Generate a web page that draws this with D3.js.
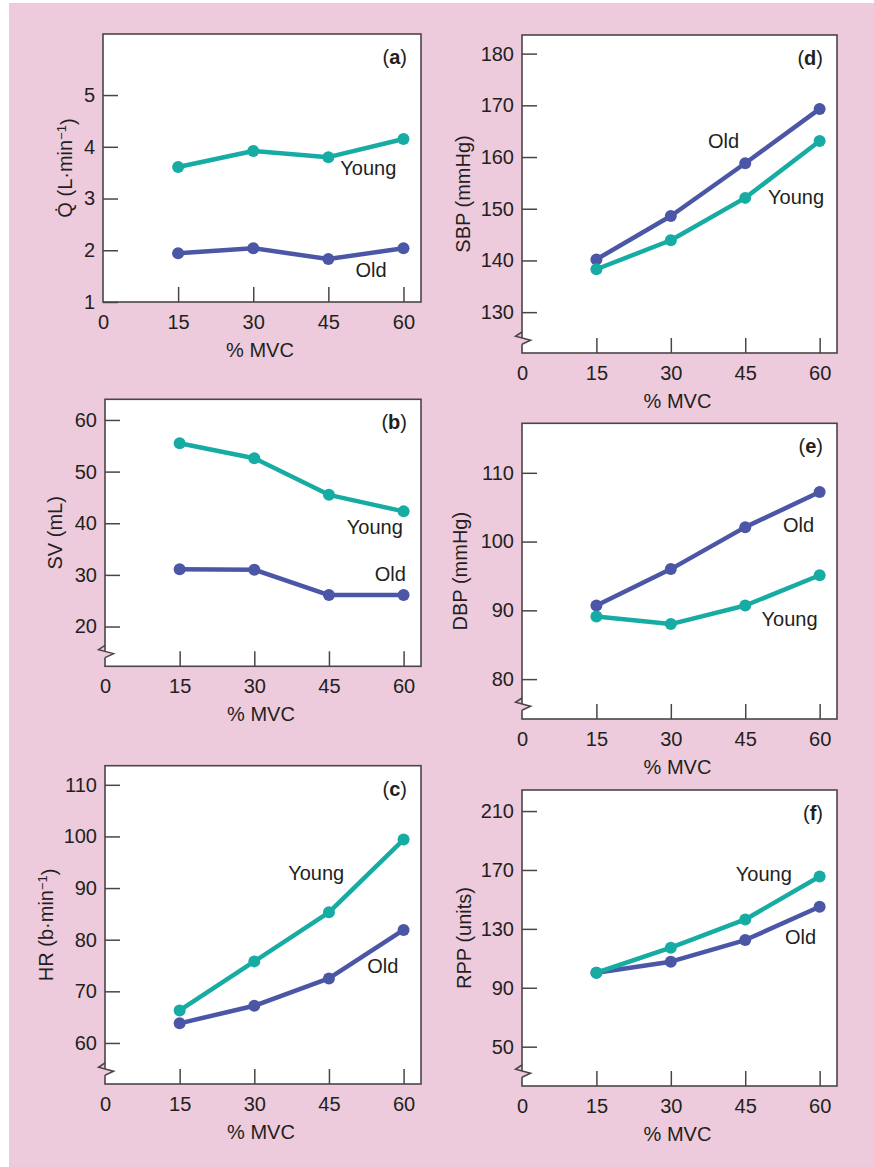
<!DOCTYPE html>
<html>
<head>
<meta charset="utf-8">
<script src="https://cdn.jsdelivr.net/npm/d3@7"></script>
<style>
  body { margin: 0; background: #fff; }
  text { font-family: "Liberation Sans", Arial, sans-serif; fill: #231f20; }
</style>
</head>
<body>
<div id="chart"></div>
<script>
const width = 874;
const height = 1167;
const fs = "20px";

// % MVC
const mvc = [15, 30, 45, 60];
const xTicks = [0, 15, 30, 45, 60];

// (a) cardiac output
const qYoung = [3.61, 3.92, 3.80, 4.15];
const qOld = [1.94, 2.04, 1.83, 2.04];
const qTicks = [1, 2, 3, 4, 5];
// (b) stroke volume
const svYoung = [55.5, 52.6, 45.5, 42.3];
const svOld = [31.1, 31.0, 26.1, 26.1];
const svTicks = [20, 30, 40, 50, 60];
// (c) heart rate
const hrYoung = [66.3, 75.8, 85.3, 99.4];
const hrOld = [63.8, 67.2, 72.5, 81.9];
const hrTicks = [60, 70, 80, 90, 100, 110];
// (d) systolic BP
const sbpYoung = [138.3, 143.9, 152.1, 163.1];
const sbpOld = [140.2, 148.6, 158.8, 169.3];
const sbpTicks = [130, 140, 150, 160, 170, 180];
// (e) diastolic BP
const dbpYoung = [89.1, 88.0, 90.7, 95.1];
const dbpOld = [90.7, 96.0, 102.1, 107.2];
const dbpTicks = [80, 90, 100, 110];
// (f) rate pressure product
const rppYoung = [100.2, 117.2, 136.4, 165.6];
const rppOld = [100.2, 107.7, 122.4, 145.0];
const rppTicks = [50, 90, 130, 170, 210];

const young = "#17aca3";
const old = "#4b57a6";
const pink = "#edcbdc";
const ink = "#231f20";

const panels = [
  {letter: "a", box: [103, 34, 421, 302], yDomain: [1, 6.18], ticks: qTicks,
   young: qYoung, old: qOld, brk: false,
   ylab: ["Q\u0307 (L\u00b7min", "\u22121", ")"], ylabX: 72,
   yl: [47.4, 3.59], ol: [50.4, 1.62]},
  {letter: "b", box: [105, 399.3, 421, 666.3], yDomain: [12.3, 64], ticks: svTicks,
   young: svYoung, old: svOld, brk: true,
   ylab: ["SV (mL)"], ylabX: 62,
   yl: [48.6, 39.35], ol: [54.2, 30.2]},
  {letter: "c", box: [105, 765.7, 421, 1084], yDomain: [52.05, 113.7], ticks: hrTicks,
   young: hrYoung, old: hrOld, brk: true,
   ylab: ["HR (b\u00b7min", "\u22121", ")"], ylabX: 53,
   yl: [36.8, 92.9], ol: [52.7, 74.9]},
  {letter: "d", box: [522, 35, 837, 353], yDomain: [122.1, 183.6], ticks: sbpTicks,
   young: sbpYoung, old: sbpOld, brk: true,
   ylab: ["SBP (mmHg)"], ylabX: 470,
   yl: [49.6, 152.3], ol: [37.5, 163.2]},
  {letter: "e", box: [522, 423.3, 837, 719], yDomain: [74.2, 117.2], ticks: dbpTicks,
   young: dbpYoung, old: dbpOld, brk: true,
   ylab: ["DBP (mmHg)"], ylabX: 467,
   yl: [48.3, 88.75], ol: [52.6, 102.5]},
  {letter: "f", box: [522, 790, 837, 1086], yDomain: [23.3, 224.3], ticks: rppTicks,
   young: rppYoung, old: rppOld, brk: true,
   ylab: ["RPP (units)"], ylabX: 471,
   yl: [43.1, 167.7], ol: [53.0, 124.3]}
];

const svg = d3.select("#chart").append("svg")
  .attr("width", width)
  .attr("height", height);

svg.append("rect").attr("width", width).attr("height", height).attr("fill", "#fff");
svg.append("rect").attr("x", 9).attr("y", 3)
  .attr("width", width - 9).attr("height", height - 3).attr("fill", pink);

panels.forEach(drawPanel);

function drawPanel(p) {
  const [x0, y0, x1, y1] = p.box;
  const x = d3.scaleLinear().domain([0, 63.5]).range([x0, x1]);
  const y = d3.scaleLinear().domain(p.yDomain).range([y1, y0]);
  const g = svg.append("g");

  g.append("rect")
    .attr("x", x0).attr("y", y0)
    .attr("width", x1 - x0).attr("height", y1 - y0)
    .attr("fill", "#fff")
    .attr("stroke", "#4a4548")
    .attr("stroke-width", 1.6);

  // y axis, ticks pointing inward
  const ya = g.append("g")
    .attr("transform", "translate(" + x0 + ",0)")
    .call(d3.axisLeft(y).tickValues(p.ticks).tickFormat(d3.format("d"))
      .tickSize(-15).tickPadding(8));
  ya.select(".domain").remove();
  ya.selectAll(".tick line").attr("stroke", "#4a4548").attr("stroke-width", 1.5);
  ya.selectAll(".tick text")
    .style("font-family", "Liberation Sans, Arial, sans-serif")
    .style("font-size", fs).attr("fill", ink);

  // x axis, ticks pointing up
  const xa = g.append("g")
    .attr("transform", "translate(0," + y1 + ")")
    .call(d3.axisBottom(x).tickValues(xTicks).tickFormat(d3.format("d")).tickSize(-15));
  xa.select(".domain").remove();
  xa.selectAll(".tick line")
    .attr("stroke", "#4a4548").attr("stroke-width", 1.5)
    .filter(d => d === 0).remove();
  xa.selectAll(".tick text")
    .attr("y", 27).attr("dy", null)
    .style("font-family", "Liberation Sans, Arial, sans-serif")
    .style("font-size", fs).attr("fill", ink);

  // axis break
  if (p.brk) {
    const b = y1 - 15;
    g.append("path")
      .attr("d", "M" + (x0 - 9) + "," + (b - 6) + "L" + x0 + "," + (b - 6) +
        "L" + (x0 - 6.5) + "," + (b - 1.7) + "L" + (x0 + 8.6) + "," + (b + 2.3) +
        "L" + x0 + "," + (b + 6.3) + "L" + (x0 - 9) + "," + (b + 6.3) + "Z")
      .attr("fill", pink);
    g.append("path")
      .attr("d", "M" + x0 + "," + (b - 6) +
        "L" + (x0 - 6.5) + "," + (b - 1.7) + "L" + (x0 + 8.6) + "," + (b + 2.3) +
        "L" + x0 + "," + (b + 6.3))
      .attr("fill", "none")
      .attr("stroke", "#4a4548")
      .attr("stroke-width", 1.5);
  }

  const line = d3.line().x((d, i) => x(mvc[i])).y(d => y(d));

  [[p.old, old], [p.young, young]].forEach(function(s) {
    g.append("path")
      .attr("d", line(s[0]))
      .attr("fill", "none")
      .attr("stroke", s[1])
      .attr("stroke-width", 4.5)
      .attr("stroke-linejoin", "round");
    g.selectAll(null)
      .data(s[0])
      .enter()
      .append("circle")
      .attr("cx", (d, i) => x(mvc[i]))
      .attr("cy", d => y(d))
      .attr("r", 6)
      .attr("fill", s[1]);
  });

  // series labels
  g.append("text")
    .attr("x", x(p.yl[0])).attr("y", y(p.yl[1])).attr("dy", "0.36em")
    .style("font-size", fs)
    .text("Young");
  g.append("text")
    .attr("x", x(p.ol[0])).attr("y", y(p.ol[1])).attr("dy", "0.36em")
    .style("font-size", fs)
    .text("Old");

  // panel letter
  const lt = g.append("text")
    .attr("x", x1 - 14).attr("y", y0 + 30)
    .attr("text-anchor", "end")
    .style("font-size", fs);
  lt.append("tspan").text("(");
  lt.append("tspan").style("font-weight", "bold").text(p.letter);
  lt.append("tspan").text(")");

  // x axis title
  g.append("text")
    .attr("x", (x0 + x1) / 2 - 2).attr("y", y1 + 55)
    .attr("text-anchor", "middle")
    .style("font-size", fs)
    .text("% MVC");

  // y axis title
  const yt = g.append("text")
    .attr("transform", "translate(" + p.ylabX + "," + ((y0 + y1) / 2) + ") rotate(-90)")
    .attr("text-anchor", "middle")
    .style("font-size", fs);
  yt.append("tspan").text(p.ylab[0]);
  if (p.ylab.length > 1) {
    yt.append("tspan").attr("dy", "-0.45em").style("font-size", "13px").text(p.ylab[1]);
    yt.append("tspan").attr("dy", "0.45em").text(p.ylab[2]);
  }
}
</script>
</body>
</html>
